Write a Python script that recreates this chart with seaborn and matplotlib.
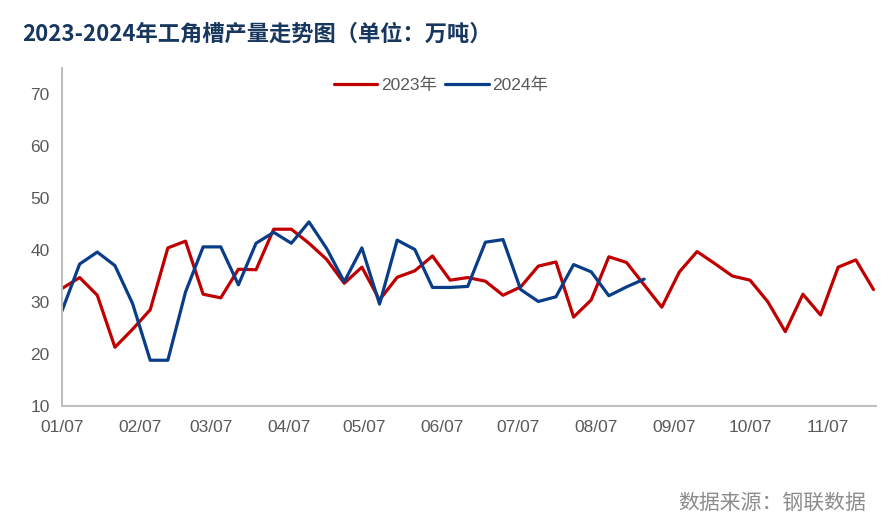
import numpy as np
import pandas as pd
import matplotlib
matplotlib.use("Agg")
import matplotlib.pyplot as plt
import matplotlib.dates as mdates
import seaborn as sns

# ---- data ----
start_date = "2023-01-07"
vals_2023 = [32.6, 34.7, 31.3, 21.3, 24.75, 28.5, 40.4, 41.7, 31.5, 30.8,
             36.3, 36.2, 44.0, 44.0, 41.3, 38.2, 33.6, 36.7, 30.4, 34.75,
             36.0, 38.85, 34.2, 34.7, 34.0, 31.3, 32.9, 36.9, 37.7, 27.1,
             30.4, 38.7, 37.6, 33.3, 29.0, 35.8, 39.7, 37.4, 35.0, 34.2,
             30.1, 24.3, 31.5, 27.5, 36.7, 38.1, 32.4]
vals_2024 = [28.3, 37.3, 39.6, 37.0, 29.7, 18.8, 18.8, 31.9, 40.6, 40.6,
             33.3, 41.3, 43.4, 41.3, 45.4, 40.3, 33.9, 40.4, 29.6, 41.9,
             40.1, 32.8, 32.8, 33.0, 41.5, 42.0, 32.4, 30.1, 31.0, 37.2,
             35.8, 31.2, 32.9, 34.4]
series_names = ["2023年", "2024年"]
y_ticks = [10, 20, 30, 40, 50, 60, 70]
title = "2023-2024年工角槽产量走势图（单位：万吨）"
source = "数据来源：钢联数据"

dates_23 = pd.date_range(start_date, periods=len(vals_2023), freq="7D")
dates_24 = pd.date_range(start_date, periods=len(vals_2024), freq="7D")
df = pd.concat([
    pd.DataFrame({"date": dates_23, "value": vals_2023, "year": series_names[0]}),
    pd.DataFrame({"date": dates_24, "value": vals_2024, "year": series_names[1]}),
])

sns.set_style("white")
plt.rcParams["font.family"] = ["Liberation Sans", "Noto Sans CJK SC", "DejaVu Sans"]

fig = plt.figure(figsize=(8.93, 5.19), dpi=100)
ax = fig.add_axes([62 / 893, 1 - 406 / 519, (876 - 62) / 893, (406 - 68) / 519])

palette = {series_names[0]: "#c00000", series_names[1]: "#0a3d87"}
sns.lineplot(data=df, x="date", y="value", hue="year", palette=palette,
             linewidth=2.3, ax=ax, legend=True)

ax.set_xlim(pd.Timestamp("2023-01-07"), pd.Timestamp("2023-11-26"))
ax.set_ylim(10, 75)
ax.set_yticks(y_ticks)
ax.xaxis.set_major_locator(mdates.MonthLocator(bymonthday=7))
ax.xaxis.set_major_formatter(mdates.DateFormatter("%m/%d"))
ax.set_xlabel("")
ax.set_ylabel("")

for s in ["top", "right"]:
    ax.spines[s].set_visible(False)
for s in ["left", "bottom"]:
    ax.spines[s].set_color("#bfbfbf")
    ax.spines[s].set_linewidth(1.5)
ax.tick_params(axis="both", which="major", length=6, width=1.5, color="#bfbfbf",
               labelcolor="#595959", labelsize=12.5, direction="out")
ax.tick_params(axis="x", pad=4)
ax.tick_params(axis="y", pad=3)

handles, labels = ax.get_legend_handles_labels()
leg = fig.legend(handles, labels, loc="center", bbox_to_anchor=(441 / 893, 1 - 85 / 519),
                 ncol=2, frameon=False, fontsize=12.5, handlelength=2.5,
                 handletextpad=0.2, columnspacing=0.5)
for t in leg.get_texts():
    t.set_color("#595959")
    t.set_family(["Liberation Sans", "Noto Sans CJK SC"])
if ax.get_legend():
    ax.get_legend().remove()

fig.text(22 / 893, 1 - 34 / 519, title, ha="left", va="center", fontsize=16,
         fontweight="bold", color="#17375e",
         family=["Noto Sans CJK SC", "DejaVu Sans"])
fig.text(866 / 893, 1 - 503 / 519, source, ha="right", va="center", fontsize=15,
         color="#8c8c8c", family=["Noto Sans CJK SC", "DejaVu Sans"])

fig.savefig("out.png", dpi=100)
